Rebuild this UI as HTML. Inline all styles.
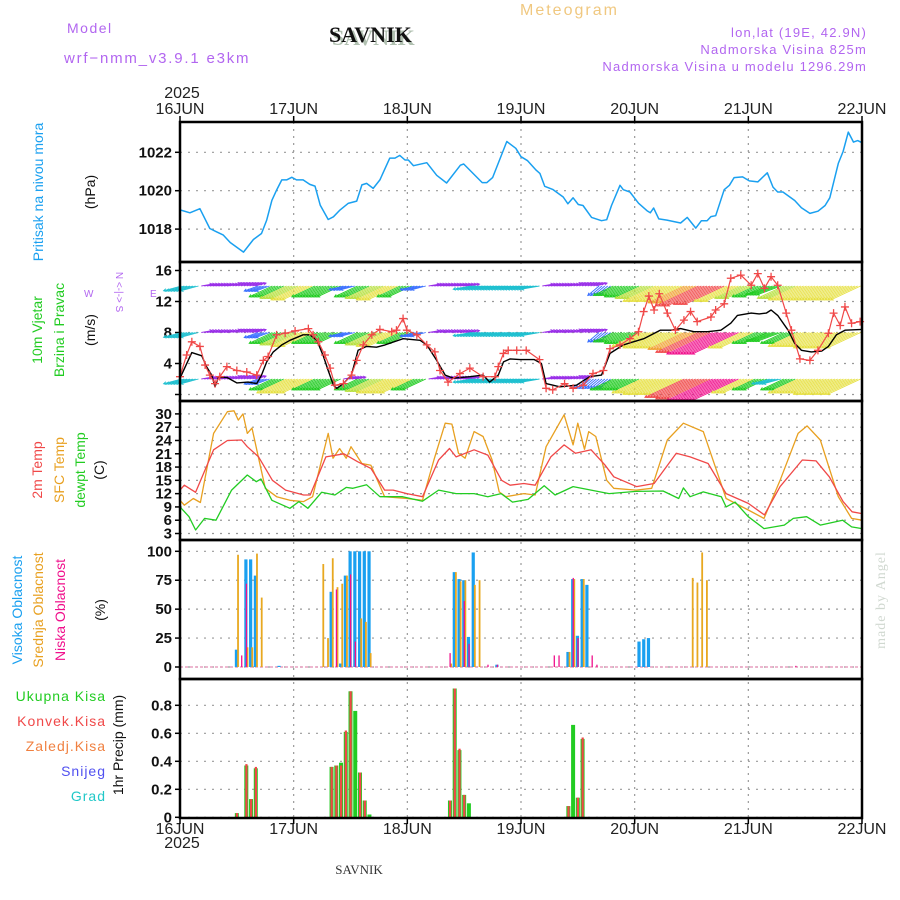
<!DOCTYPE html>
<html><head><meta charset="utf-8">
<style>
body{margin:0;background:#fff;}
svg{display:block;font-family:"Liberation Sans",sans-serif;}
</style></head>
<body>
<svg id="chart" width="900" height="900" viewBox="0 0 900 900" xmlns="http://www.w3.org/2000/svg">
<rect x="0" y="0" width="900" height="900" fill="#fff"/>
<text x="67" y="33" fill="#b266f0" font-size="14" letter-spacing="1.5">Model</text>
<text x="64" y="63" fill="#b266f0" font-size="15" letter-spacing="1.8">wrf−nmm_v3.9.1 e3km</text>
<text x="332" y="45" fill="#b0c0b0" font-size="22" font-weight="bold" font-family="Liberation Serif, serif">SAVNIK</text>
<text x="329" y="42" fill="#111" font-size="22" font-weight="bold" font-family="Liberation Serif, serif">SAVNIK</text>
<text x="520" y="15" fill="#f0c880" font-size="16" letter-spacing="2">Meteogram</text>
<text x="867" y="37" fill="#b266f0" font-size="13" letter-spacing="1.2" text-anchor="end">lon,lat (19E, 42.9N)</text>
<text x="867" y="54" fill="#b266f0" font-size="13" letter-spacing="1.2" text-anchor="end">Nadmorska Visina 825m</text>
<text x="867" y="71" fill="#b266f0" font-size="13" letter-spacing="1.2" text-anchor="end">Nadmorska Visina u modelu 1296.29m</text>
<text x="182" y="98" fill="#222" font-size="16" text-anchor="middle">2025</text>
<text x="182" y="848" fill="#222" font-size="16" text-anchor="middle">2025</text>
<text x="359" y="874" fill="#333" font-size="13" font-family="Liberation Serif, serif" text-anchor="middle">SAVNIK</text>
<text transform="translate(885,600) rotate(-90)" fill="#d0d8d0" font-size="14" font-family="Liberation Serif, serif" text-anchor="middle" letter-spacing="1">made by Angel</text>
<text transform="translate(43,192) rotate(-90)" fill="#1aa0f0" font-size="14" text-anchor="middle">Pritisak na nivou mora</text>
<text transform="translate(95,192) rotate(-90)" fill="#111" font-size="14" text-anchor="middle">(hPa)</text>
<text transform="translate(42,330) rotate(-90)" fill="#22cc22" font-size="14" text-anchor="middle">10m Vjetar</text>
<text transform="translate(64,330) rotate(-90)" fill="#22cc22" font-size="14" text-anchor="middle">Brzina i Pravac</text>
<text transform="translate(95,330) rotate(-90)" fill="#111" font-size="14" text-anchor="middle">(m/s)</text>
<text transform="translate(116,292) rotate(90)" fill="#b266f0" font-size="10" text-anchor="middle">N &lt;-|-&gt; S</text>
<text x="84" y="297" fill="#b266f0" font-size="10">W</text>
<text x="150" y="297" fill="#b266f0" font-size="10">E</text>
<text transform="translate(42,470) rotate(-90)" fill="#f04848" font-size="14" text-anchor="middle">2m Temp</text>
<text transform="translate(64,470) rotate(-90)" fill="#e8a020" font-size="14" text-anchor="middle">SFC Temp</text>
<text transform="translate(85,470) rotate(-90)" fill="#22cc22" font-size="14" text-anchor="middle">dewpt Temp</text>
<text transform="translate(104,470) rotate(-90)" fill="#111" font-size="14" text-anchor="middle">(C)</text>
<text transform="translate(22,610) rotate(-90)" fill="#1aa0f0" font-size="14" text-anchor="middle">Visoka Oblacnost</text>
<text transform="translate(43,610) rotate(-90)" fill="#e8a020" font-size="14" text-anchor="middle">Srednja Oblacnost</text>
<text transform="translate(65,610) rotate(-90)" fill="#f0108c" font-size="14" text-anchor="middle">Niska Oblacnost</text>
<text transform="translate(105,610) rotate(-90)" fill="#111" font-size="14" text-anchor="middle">(%)</text>
<text x="106" y="701" fill="#22cc22" font-size="14" text-anchor="end" letter-spacing="1">Ukupna Kisa</text>
<text x="106" y="726" fill="#f04848" font-size="14" text-anchor="end" letter-spacing="1">Konvek.Kisa</text>
<text x="106" y="751" fill="#f08040" font-size="14" text-anchor="end" letter-spacing="1">Zaledj.Kisa</text>
<text x="106" y="776" fill="#5050f0" font-size="14" text-anchor="end" letter-spacing="1">Snijeg</text>
<text x="106" y="801" fill="#20c8c8" font-size="14" text-anchor="end" letter-spacing="1">Grad</text>
<text transform="translate(123,745) rotate(-90)" fill="#111" font-size="14" text-anchor="middle">1hr Precip (mm)</text>
<g id="plots"></g>
</svg>
<script>
// ---- data ----
const dayLabels = ['16JUN','17JUN','18JUN','19JUN','20JUN','21JUN','22JUN'];
const presHours = [0,2.1,4.2,6.3,7.7,9.1,10.6,13.4,15.5,17.2,18.3,19.4,20.4,21.5,22.5,23.6,24.6,26,27.4,28.5,29.6,31.3,32.4,33.8,35.5,37.3,38.4,39.4,40.8,42.2,44.3,45.4,46.4,47.5,48.2,49.3,52.1,54.2,56.3,59.2,59.9,63.8,64.8,66,69,70.9,72,73.4,75.2,76,77,78.7,80.9,81.9,83,84.1,85.1,86.9,89,90.1,91.1,92.9,93.6,95,96.8,98.6,99.3,100,101.1,102.8,105.7,107.1,108.9,110.1,111.3,112.1,113.1,114.9,116,117,118.8,120.2,122,124,125.2,126.2,127.3,129.8,131.2,133,134.7,136.2,137.2,139,140,141.1,142.2,143.1,144];
const presVals = [1019.0,1018.85,1019.06,1018.03,1017.86,1017.7,1017.3,1016.8,1017.46,1017.77,1018.47,1019.5,1020.03,1020.56,1020.56,1020.7,1020.56,1020.56,1020.33,1020.24,1019.25,1018.5,1018.64,1019.0,1019.34,1019.46,1020.3,1020.38,1020.12,1020.56,1021.7,1021.7,1021.84,1021.6,1021.6,1021.3,1021.46,1020.8,1020.4,1021.33,1021.39,1020.42,1020.42,1020.68,1022.56,1022.21,1021.77,1021.56,1021.07,1020.9,1020.23,1020.07,1019.67,1019.32,1019.63,1019.28,1019.23,1018.61,1018.44,1018.49,1019.23,1020.28,1020.05,1019.93,1019.35,1018.96,1018.85,1019.1,1018.53,1018.47,1018.32,1018.61,1018.05,1018.44,1018.44,1018.65,1018.7,1020.05,1020.28,1020.68,1020.72,1020.51,1020.46,1020.93,1020.19,1019.93,1019.93,1019.49,1019.11,1018.82,1018.93,1019.23,1019.63,1021.42,1022.04,1023.05,1022.53,1022.61,1022.5];
const presTicks = [1018,1020,1022];

const speedHours = [0,2.5,4.6,5.6,6.7,7.4,8.1,9.9,12,14.4,16.2,17.2,18.3,19.7,21.5,23.2,26,27.4,28.9,30.3,31.3,32.4,33.1,34.5,36.2,37.6,39.4,41.5,43.3,47.1,50.7,52.1,54.2,56,57.7,61.2,64,65.4,67.2,68.3,69.7,71.8,74.8,76.3,77.3,80.2,83.7,86.5,89,90.8,93.6,97.9,101.4,103.6,105.7,108.5,111.4,114.2,116.3,117.7,120.6,122.3,123.8,124.8,126.2,128.4,129.8,131.2,133.3,135.5,136.9,138.6,140.4,144];
const speedVals = [2.1,5.4,5.0,3.6,2.5,1.0,2.2,2.2,1.5,1.6,1.4,2.5,4.2,5.5,6.4,7.0,7.7,7.7,7.0,4.9,3.1,1.2,0.8,1.4,2.5,5.7,6.2,6.1,6.4,7.2,7.0,6.4,4.4,2.5,2.1,2.3,2.5,1.6,2.5,4.2,4.6,4.5,4.5,4.0,1.4,1.0,1.2,2.3,2.5,5.3,6.4,7.2,8.3,8.3,8.5,8.1,8.1,8.3,9.2,10.2,10.5,10.4,10.5,10.9,10.2,8.3,6.6,5.7,5.5,5.6,6.2,7.7,8.3,8.4];
const gustHours = [0,1.4,2.5,4.2,5.3,6.3,7.4,8.4,9.9,12,14.1,16.2,17.6,18.6,20.4,22.2,24.3,27.1,28.1,29.2,30.6,31.7,32.7,34.5,36.2,37.3,38.7,40.5,42.2,44.7,45.7,47.1,47.9,50,52.1,53.8,54.9,56.6,59.1,61.2,64,66.5,67.2,68.3,69.3,71.1,73.1,75.9,77.3,78.7,81.2,83,85.1,87.2,89.4,90.8,92.9,95,96.8,97.9,99,100.1,101.2,102.9,104.6,106.4,107.8,109.2,112.1,113.1,114.9,116.3,118.4,120.6,122,123.4,124.8,126.2,128,129.1,130.9,133,134.7,136.9,138,139.4,140.4,141.8,143.6];
const gustVals = [2.3,5.1,6.8,6.2,3.8,2.5,1.4,2.3,3.6,3.1,2.9,2.5,4.4,4.9,7.7,7.9,8.2,8.5,7.7,6.8,5.1,3.4,1.2,1.4,2.5,4.4,6.4,7.7,8.4,8.1,8.3,9.8,8.3,7.7,6.4,5.5,3.1,1.6,2.7,3.4,2.3,2.3,3.6,5.3,5.7,5.7,5.7,4.5,0.8,0.6,1.4,0.8,1.2,2.7,3.1,5.9,6.4,7.2,8.1,10.7,12.7,10.9,13.0,10.5,8.3,9.6,10.7,9.4,10.0,10.9,11.7,15.0,15.4,14.1,15.6,13.7,15.2,14.1,10.5,8.3,4.6,4.4,5.7,7.9,10.5,8.9,11.3,9.2,9.4];
// wind arrows every 3 h (h = 0,3,...,144): speed and "toward" direction (deg, 0=east, ccw)
const windRowLevels = [14, 8, 2];
const topSpd = [4,4,2,2,2,2,3,6,7,8,6,6,3,6,7,8,6,3,2,2,2,4,4,4,4,4,2,2,2,2,3,5,6,7,9,9,10,12,11,9,7,6,6,7,8,8,8,8,8];
const topDir = [195,195,10,10,15,15,200,205,205,205,205,205,195,205,205,205,205,195,10,10,10,190,190,190,190,190,10,10,15,15,220,205,205,205,205,205,205,205,205,205,205,205,200,205,205,205,205,205,205];
const midSpd = [4,4,2,2,2,2,3,6,7,8,6,6,3,6,7,8,6,3,2,2,2,4,4,4,4,4,2,2,2,2,3,5,6,8,9,9,10,12,13,13,9,6,6,6,8,8,9,9,9];
const midDir = [195,195,10,10,15,15,200,205,205,205,205,205,195,205,205,205,205,195,10,10,10,190,190,190,190,190,10,10,15,15,220,205,205,205,205,205,205,205,205,205,205,205,200,205,205,205,205,205,205];
const lowSpd = [4,4,2,2,2,2,3,6,8,8,6,6,2,6,7,8,8,6,2,2,2,4,4,4,4,4,2,2,2,3,3,6,6,8,9,9,11,12,13,13,8,6,4,6,8,8,9,9,9];
const lowDir = [195,195,10,10,15,15,200,205,205,205,205,205,10,205,205,205,205,205,10,10,10,190,190,190,190,190,10,10,15,220,220,205,205,205,205,205,205,205,205,205,205,205,195,205,205,205,205,205,205];

const t2Hours = [0,0.9,3.3,7.1,10,13,14.2,16.6,19.5,22.3,26.1,27.5,30.8,34.6,37.5,40.3,43.2,45,47.9,51.2,54.6,56.9,58.3,62.1,65,67.9,69.7,72.6,75,78.3,81.1,83.5,86.8,89.7,91.6,96.4,100.1,104.8,107.7,111.5,115.3,120,123.4,126.7,131.4,134.3,137.1,140,141.9,144];
const t2Vals = [12.8,13.9,12.3,21.9,24,24.1,22.6,20.3,15,12.8,11.7,11.7,20.3,21,19.2,17.7,12.8,12.8,12,11.3,19.6,22.2,20.3,21.9,20.7,15,13.9,14.3,13.9,20.3,23,21.1,21.9,18.5,15.8,13.6,14.3,21.1,20.3,18.8,12,9.8,7.2,13.6,19.6,19.4,15.8,10.2,7.9,7.5];
const sfcHours = [0,0.9,2.8,4.3,7.1,10,11.4,12.3,13.3,14.2,15.2,16.6,18,20.4,23.2,26.1,28,31.3,32.3,33.7,35.1,36.1,38.4,40.3,43.2,47.9,51.2,53.6,56,57.4,58.8,60.2,62.1,64,65.9,67.4,68.8,72.6,75,77.3,81.1,83,84,85.4,86.3,87.8,90.1,91.6,96.3,99.6,102.9,106.3,110.5,115.3,120,123.3,126.7,130.5,132.4,135.2,139,141.8,144];
const sfcVals = [10.5,9.4,10.9,10,25.6,30.5,30.7,28.6,30,25.6,26.8,20,13.2,11.3,10.5,10.2,11.3,25.6,20,22.2,20,22.6,18.8,18.4,11.3,10.9,10.5,19.6,27.9,27.7,21.1,20,26,24.9,19.6,12.4,11.3,12,11.7,22.6,29.8,23,27.9,22,26,24.9,15,13.2,12.8,13.2,24.1,27.9,26,10.9,8.3,6.4,15,25.6,27.3,24.1,11.3,6.4,6];
const tdHours = [0,1.9,3.3,5.2,7.6,10.9,14.2,16.1,17.1,19.4,23.2,25.1,27,29.9,32.7,35.1,36.5,39.4,42.2,47,51.2,54.6,58.3,62.1,65,67.8,70.2,73.5,76.9,79.2,83,86.8,90.6,96.3,102,105.3,106.3,107.7,110.5,114.3,115.3,117.2,120,123.3,127.6,129.5,132.3,135.2,139.9,141.8,144];
const tdVals = [9,6.8,3.8,6.4,6,12.8,16.2,14.7,15.3,10.5,8.7,10.2,8.7,12.3,11.7,13.4,13.2,14,11.3,11.3,10.3,12.8,12,12,11.3,12,10.1,10.7,13.8,11.7,13.6,12.8,12,12.5,12.6,10.9,13.3,11.3,12.4,11.3,9,10.1,6.8,4.1,4.9,6.4,6.8,4.9,6,4.5,4.1];
const tempTicks = [3,6,9,12,15,18,21,24,27,30];

const cloudHours = [12,13,14,15,16,17,21,30,31,32,33,34,35,36,37,38,39,40,57,58,59,60,61,62,63,65,67,79,80,82,83,84,85,86,87,88,97,98,99,108,109,110,111,130];
const highCloud = [15,0,93,93,79,0,1,0,0,65,0,3,79,100,100,100,100,100,0,82,76,75,26,99,0,0,2,0,0,13,76,27,76,71,0,0,22,24,25,0,0,0,0,0];
const midCloud  = [97,0,17,17,98,60,0,89,25,94,69,72,79,0,0,42,39,12,3,82,74,75,0,71,75,0,0,0,0,13,76,0,76,0,0,0,0,0,0,77,73,99,75,0];
const lowCloud  = [0,10,72,0,0,0,0,0,0,0,67,0,0,80,22,0,0,0,12,0,0,57,20,0,0,2,2,10,10,0,77,25,0,0,10,2,0,0,0,0,0,0,0,1];
const cloudTicks = [0,25,50,75,100];

const rainHours = [12,14,15,16,32,33,34,35,36,37,38,39,40,57,58,59,60,61,82,83,84,85];
const totalRain = [0.03,0.37,0.13,0.35,0.36,0.37,0.39,0.61,0.9,0.76,0.32,0.12,0.02,0.12,0.92,0.48,0.16,0.1,0.08,0.66,0.14,0.56];
const convRain  = [0.03,0.38,0.13,0.36,0.36,0.37,0.37,0.62,0.9,0.0,0.32,0.12,0.0,0.12,0.92,0.49,0.16,0.0,0.08,0.0,0.14,0.57];
const rainTicks = [0,0.2,0.4,0.6,0.8];

// ---- drawing ----
const NS = 'http://www.w3.org/2000/svg';
const g = document.getElementById('plots');
const L = 180, R = 862;
function X(h){ return L + h*(R-L)/144; }
const panels = [
  {top:122, bot:262, y:v=>152.3+(1022-v)*19.2},
  {top:262, bot:401, y:v=>394.5-v*7.75},
  {top:401, bot:540, y:v=>413.9+(30-v)*4.43},
  {top:540, bot:679, y:v=>667-v*1.157},
  {top:679, bot:818, y:v=>817.3-v*140}
];
function mk(tag, attrs, parent){
  const e = document.createElementNS(NS, tag);
  for (const k in attrs) e.setAttribute(k, attrs[k]);
  (parent||g).appendChild(e);
  return e;
}
for (let d=1; d<6; d++){
  const ln = mk('line',{x1:X(d*24),x2:X(d*24),y1:122,y2:818,stroke:'#999','stroke-width':1.2,'stroke-dasharray':'2,5'});
  
  
}
function hgrid(p, ticks, fmt){
  ticks.forEach(v=>{
    const y = p.y(v);
    const ln = mk('line',{x1:L,x2:R,y1:y,y2:y,stroke:'#999','stroke-width':1.2,'stroke-dasharray':'2,6'});
    
    
    const tk = mk('line',{x1:L-5,x2:L,y1:y,y2:y,stroke:'#000','stroke-width':1.5});
    
    
    if (fmt){
      const t = mk('text',{x:L-8,y:y+5,'text-anchor':'end','font-size':15,fill:'#111','font-weight':'bold'});
      t.textContent = fmt(v);
      
      
    }
  });
}
hgrid(panels[0], presTicks, v=>String(v));
hgrid(panels[1], [0,4,8,12,16], v=>v===0?'':String(v));
hgrid(panels[2], tempTicks, v=>String(v));
hgrid(panels[3], cloudTicks, v=>String(v));
hgrid(panels[4], rainTicks, v=>v===0?'0':v.toFixed(1));

function line(p, hs, vs, color, w){
  const d = hs.map((h,i)=>(i?'L':'M')+X(h).toFixed(1)+','+p.y(vs[i]).toFixed(1)).join('');
  return mk('path',{d:d,fill:'none',stroke:color,'stroke-width':w||1.3,'stroke-linejoin':'round'});
}
const pl = line(panels[0], presHours, presVals, '#1aa0f0', 1.5);



function windColor(s){
  if (s<2.5) return '#9a30e8';
  if (s<3.5) return '#3a70ff';
  if (s<4.5) return '#20c0d0';
  if (s<6.5) return '#22cc22';
  if (s<7.5) return '#b8e040';
  if (s<9.5) return '#e6e040';
  if (s<10.5) return '#f0a030';
  if (s<12.5) return '#f04848';
  return '#f0108c';
}
const rows = [[topSpd,topDir],[midSpd,midDir],[lowSpd,lowDir]];
rows.forEach((r,ri)=>{
  const y0 = panels[1].y(windRowLevels[ri]);
  r[0].forEach((s,i)=>{
    const h = i*3;
    const ang = r[1][i]*Math.PI/180;
    const len = 4 + s*3.6;
    const col = windColor(s);
    for (let k=0;k<5;k++){
      const hx = h - 1.5 + k*0.6;
      if (hx<0 || hx>144) continue;
      const x0 = X(hx);
      const x1 = x0 + len*Math.cos(ang), y1 = y0 - len*Math.sin(ang);
      const a = mk('path',{d:`M${x0.toFixed(1)},${y0.toFixed(1)}L${x1.toFixed(1)},${y1.toFixed(1)}M${(x1-3*Math.cos(ang-0.5)).toFixed(1)},${(y1+3*Math.sin(ang-0.5)).toFixed(1)}L${x1.toFixed(1)},${y1.toFixed(1)}L${(x1-3*Math.cos(ang+0.5)).toFixed(1)},${(y1+3*Math.sin(ang+0.5)).toFixed(1)}`,stroke:col,'stroke-width':0.9,fill:'none'});
      
      
    }
  });
});
const sp = line(panels[1], speedHours, speedVals, '#000', 1.4);


const gl = line(panels[1], gustHours, gustVals, '#f04848', 1.2);


gustHours.forEach((h,i)=>{
  const x = X(h), y = panels[1].y(gustVals[i]);
  const m = mk('path',{d:`M${x-4},${y}h8M${x},${y-4}v8`,stroke:'#f04848','stroke-width':1.3});
  
  
});

const l1 = line(panels[2], sfcHours, sfcVals, '#e8a020', 1.3);


const l2 = line(panels[2], t2Hours, t2Vals, '#f04848', 1.3);


const l3 = line(panels[2], tdHours, tdVals, '#22cc22', 1.3);



const cb = mk('line',{x1:L,x2:R,y1:panels[3].y(0),y2:panels[3].y(0),stroke:'#e8a0c0','stroke-width':1.5,'stroke-dasharray':'3,2'});


cloudHours.forEach((h,i)=>{
  const x = X(h), y0 = panels[3].y(0);
  if (highCloud[i]>0){
    const b = mk('rect',{x:x-2,y:panels[3].y(highCloud[i]),width:3.2,height:y0-panels[3].y(highCloud[i]),fill:'#1aa0f0'});
    
    
  }
  if (midCloud[i]>0){
    const b = mk('rect',{x:x+0.3,y:panels[3].y(midCloud[i]),width:1.8,height:y0-panels[3].y(midCloud[i]),fill:'#e8a820'});
    
    
  }
  if (lowCloud[i]>0){
    const b = mk('rect',{x:x-0.5,y:panels[3].y(lowCloud[i]),width:1.3,height:y0-panels[3].y(lowCloud[i]),fill:'#f0108c'});
    
    
  }
});

rainHours.forEach((h,i)=>{
  const x = X(h), y0 = panels[4].y(0);
  const b = mk('rect',{x:x-2,y:panels[4].y(totalRain[i]),width:4,height:y0-panels[4].y(totalRain[i]),fill:'#22cc22'});
  
  
  if (convRain[i]>0){
    const c = mk('rect',{x:x-1,y:panels[4].y(convRain[i]),width:2.2,height:y0-panels[4].y(convRain[i]),fill:'#f04848'});
    
    
  }
});

panels.forEach(p=>{
  const f = mk('rect',{x:L,y:p.top,width:R-L,height:p.bot-p.top,fill:'none',stroke:'#000','stroke-width':2.5});
  
  
});
dayLabels.forEach((lab,d)=>{
  const x = X(d*24);
  const t1 = mk('text',{x:x,y:114,'text-anchor':'middle','font-size':16,fill:'#222'});
  t1.textContent = lab;
  
  
  const t2 = mk('text',{x:x,y:834,'text-anchor':'middle','font-size':16,fill:'#222'});
  t2.textContent = lab;
  
  
  const k1 = mk('line',{x1:x,x2:x,y1:116,y2:122,stroke:'#000','stroke-width':1.5});
  
  
  const k2 = mk('line',{x1:x,x2:x,y1:818,y2:824,stroke:'#000','stroke-width':1.5});
  
  
});
</script>
</body></html>
